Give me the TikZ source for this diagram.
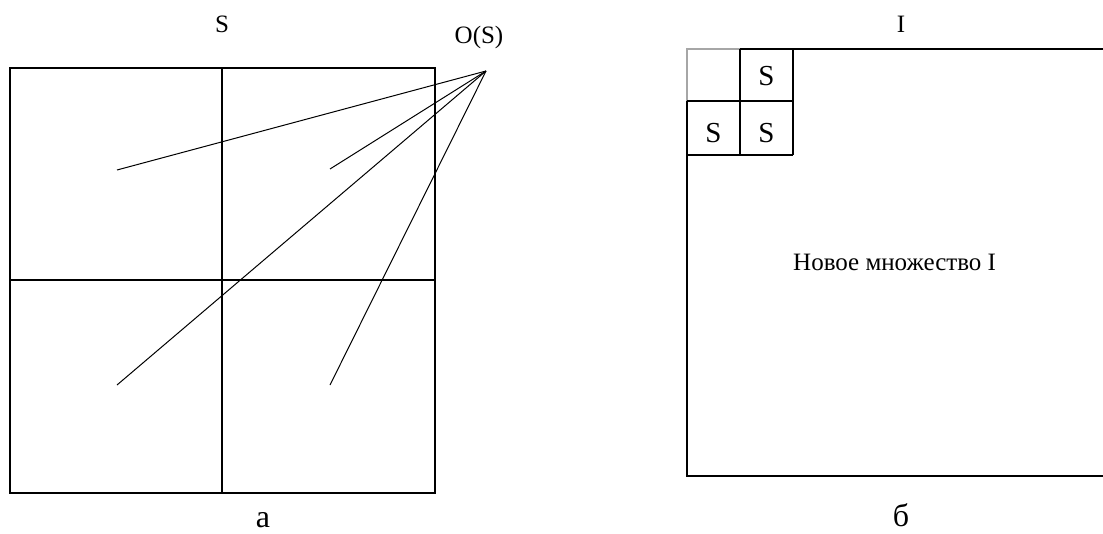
\documentclass[tikz,border=0pt]{standalone}
\usepackage{fontspec}
\setmainfont{Liberation Serif}
\begin{document}
\begin{tikzpicture}[x=1pt,y=-1pt,
  frame/.style={line width=1.2pt,draw=black},
  faint/.style={line width=1.2pt,draw=black!35},
  ray/.style={line width=1pt,draw=black},
  lbl/.style={inner sep=0pt,anchor=base,font=\fontsize{25}{25}\selectfont},
  sq/.style={inner sep=0pt,anchor=base,font=\fontsize{29}{29}\selectfont},
  figletter/.style={inner sep=0pt,anchor=base,font=\fontsize{32}{32}\selectfont}]
\useasboundingbox (0,0) rectangle (1103,533);

% --- left figure: set S split into four parts ---
\draw[frame] (10,68) rectangle (435,493);
\draw[frame] (222,68) -- (222,493);
\draw[frame] (10,280) -- (435,280);
\node[lbl] (sname) at (222,32) {S};
\node[lbl] (oname) at (479,43) {O(S)};
\coordinate (apex) at (486,71);
\coordinate (q1) at (117,170);
\coordinate (q2) at (330,169);
\coordinate (q3) at (117,385);
\coordinate (q4) at (330,385);
\foreach \q in {q1,q2,q3,q4} \draw[ray] (apex) -- (\q);
\node[figletter] (capa) at (263,527) {а};

% --- right figure: new set I tiled by copies of S ---
\draw[faint] (687,101) -- (687,49) -- (740,49);
\draw[frame] (740,49) -- (1103,49);
\draw[frame] (740,49) -- (740,155);
\draw[frame] (793,49) -- (793,155);
\draw[frame] (687,101) -- (793,101);
\draw[frame] (687,155) -- (793,155);
\draw[frame] (687,101) -- (687,476) -- (1103,476);
\node[sq] (s1) at (766.5,85) {S};
\node[sq] (s2) at (713.5,142) {S};
\node[sq] (s3) at (766.5,142) {S};
\node[lbl] (iname) at (901,32) {I};
\node[lbl,anchor=base west] (newset) at (793,270) {Новое множество I};
\node[figletter] (capb) at (901,526) {б};
\end{tikzpicture}
\end{document}
